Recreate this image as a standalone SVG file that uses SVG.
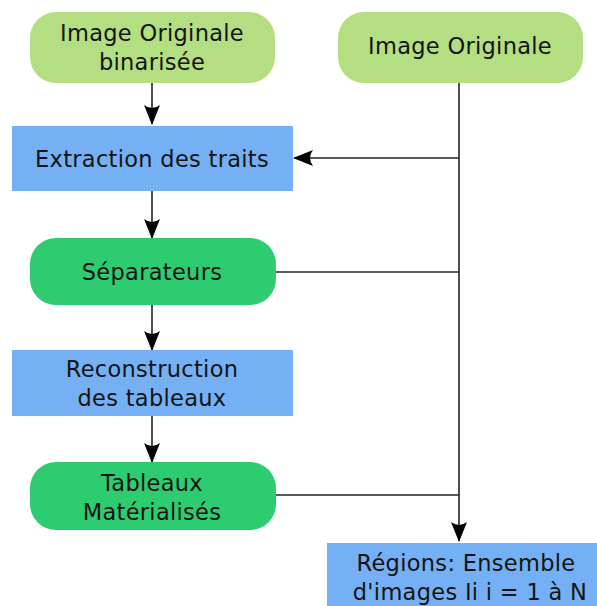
<svg xmlns="http://www.w3.org/2000/svg" width="597" height="606" viewBox="0 0 597 606">
<style>
.lg{fill:#b3de81}
.g{fill:#2ecc71}
.b{fill:#74b0f3}
text{font-family:"DejaVu Sans",sans-serif;font-size:22.5px;fill:#141414;text-anchor:middle;letter-spacing:0.3px}
.c{stroke:#222;stroke-width:1.6;fill:none}
</style>
<defs>
<marker id="ah" viewBox="0 0 20 16" refX="19" refY="8" markerWidth="20" markerHeight="16" markerUnits="userSpaceOnUse" orient="auto">
<path d="M0,0 L20,8 L0,16 Q6,8 0,0 Z" fill="#000"/>
</marker>
</defs>
<g id="connectors">
<line class="c" x1="152" y1="83" x2="152" y2="124" marker-end="url(#ah)"/>
<line class="c" x1="459" y1="158" x2="294" y2="158" marker-end="url(#ah)"/>
<line class="c" x1="459" y1="83" x2="459" y2="541" marker-end="url(#ah)"/>
<line class="c" x1="152" y1="191" x2="152" y2="238" marker-end="url(#ah)"/>
<line class="c" x1="276" y1="272" x2="459" y2="272"/>
<line class="c" x1="152" y1="305" x2="152" y2="350" marker-end="url(#ah)"/>
<line class="c" x1="152" y1="416" x2="152" y2="462" marker-end="url(#ah)"/>
<line class="c" x1="276" y1="495" x2="459" y2="495"/>
</g>
<g id="n1"><rect class="lg" x="30" y="12" width="245" height="71" rx="26"/><text x="152" y="41">Image Originale</text><text x="152" y="70">binarisée</text></g>
<g id="n2"><rect class="lg" x="338" y="12" width="245" height="71" rx="26"/><text x="460" y="54">Image Originale</text></g>
<g id="n3"><rect class="b" x="12" y="126" width="281" height="65"/><text x="152" y="167">Extraction des traits</text></g>
<g id="n4"><rect class="g" x="30" y="238" width="246" height="67" rx="26"/><text x="152" y="280">Séparateurs</text></g>
<g id="n5"><rect class="b" x="12" y="350" width="281" height="66"/><text x="152" y="377">Reconstruction</text><text x="152" y="406">des tableaux</text></g>
<g id="n6"><rect class="g" x="30" y="462" width="246" height="68" rx="26"/><text x="152" y="491">Tableaux</text><text x="152" y="520">Matérialisés</text></g>
<g id="n7"><rect class="b" x="327" y="543" width="280" height="70"/><text x="466" y="571">Régions: Ensemble</text><text x="470" y="600">d'images Ii i = 1 à N</text></g>
</svg>
